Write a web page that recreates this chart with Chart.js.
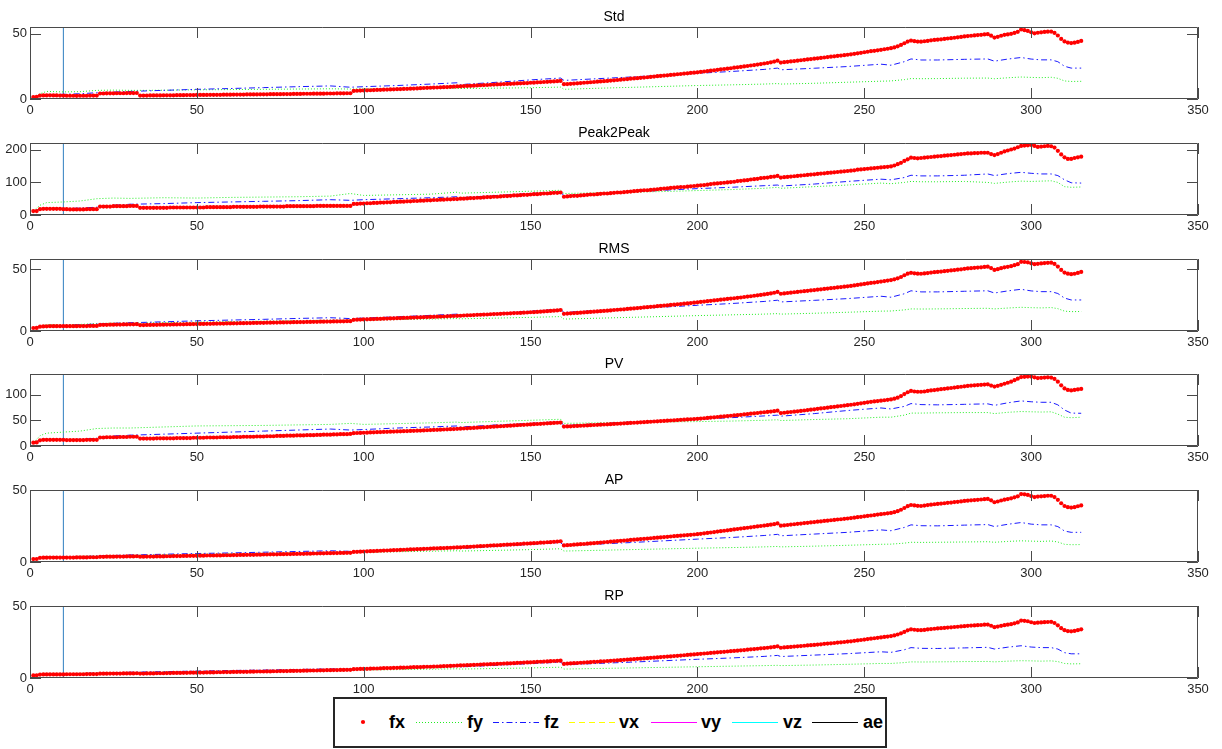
<!DOCTYPE html>
<html>
<head>
<meta charset="utf-8">
<script src="https://cdn.jsdelivr.net/npm/chart.js@4.4.1/dist/chart.umd.min.js"></script>
<style>
  html, body { margin: 0; padding: 0; background: #fff; }
  body { width: 1222px; height: 749px; position: relative; overflow: hidden; font-family: "Liberation Sans", Arial, sans-serif; }
  canvas.sub { position: absolute; left: 0; }
  #legend { position: absolute; left: 333px; top: 697px; width: 550px; height: 47px; border: 2px solid #262626; background: #fff; }
  #legend span { position: absolute; top: 12px; font-weight: bold; font-size: 18px; color: #000; line-height: 22px; }
  #legend svg { position: absolute; top: 18px; }
</style>
</head>
<body>
<div id="legend"></div>
<script>
// subplot titles and y axes
const titles = ["Std", "Peak2Peak", "RMS", "PV", "AP", "RP"];
const yMaxes = [55, 221, 58, 140, 50, 50];
const yTickVals = [[0, 50], [0, 100, 200], [0, 50], [0, 50, 100], [0, 50], [0, 50]];
const xTickStep = 50;
const xMax = 350;
const markX = 10; // vertical marker line

// fx: one value per sample, samples 1..315
const fxStd = [
  1.5, 1.6, 2.6, 2.7, 2.7, 2.8, 2.7, 2.7, 2.6, 2.6,
  2.5, 2.5, 2.5, 2.4, 2.5, 2.5, 2.5, 2.6, 2.6, 2.6,
  4.2, 4.2, 4.3, 4.3, 4.3, 4.4, 4.4, 4.4, 4.5, 4.5,
  4.5, 4.6, 2.6, 2.6, 2.6, 2.7, 2.7, 2.7, 2.7, 2.8,
  2.8, 2.8, 2.8, 2.9, 2.9, 2.9, 3.0, 3.0, 3.0, 3.1,
  3.1, 3.1, 3.1, 3.2, 3.2, 3.2, 3.2, 3.3, 3.3, 3.3,
  3.4, 3.4, 3.4, 3.4, 3.5, 3.5, 3.5, 3.5, 3.6, 3.6,
  3.6, 3.7, 3.7, 3.7, 3.7, 3.8, 3.8, 3.8, 3.9, 3.9,
  3.9, 4.0, 4.0, 4.0, 4.1, 4.1, 4.1, 4.1, 4.2, 4.2,
  4.2, 4.3, 4.3, 4.3, 4.4, 4.4, 6.2, 6.3, 6.4, 6.5,
  6.6, 6.7, 6.8, 6.9, 7.0, 7.1, 7.2, 7.3, 7.4, 7.5,
  7.6, 7.7, 7.8, 7.9, 8.0, 8.1, 8.3, 8.4, 8.5, 8.6,
  8.7, 8.8, 8.9, 9.0, 9.1, 9.3, 9.4, 9.6, 9.7, 9.9,
  10.0, 10.1, 10.2, 10.4, 10.5, 10.6, 10.7, 10.9, 11.0, 11.1,
  11.2, 11.4, 11.5, 11.6, 11.7, 11.9, 12.0, 12.1, 12.2, 12.4,
  12.5, 12.7, 12.8, 13.0, 13.1, 13.3, 13.4, 13.6, 13.8, 11.3,
  11.4, 11.6, 11.8, 12.0, 12.2, 12.4, 12.6, 12.8, 13.0, 13.2,
  13.4, 13.6, 13.8, 14.1, 14.3, 14.5, 14.8, 15.0, 15.2, 15.5,
  15.7, 15.9, 16.2, 16.4, 16.6, 16.9, 17.1, 17.4, 17.6, 17.9,
  18.1, 18.4, 18.6, 18.9, 19.1, 19.4, 19.6, 19.9, 20.1, 20.4,
  20.7, 21.0, 21.3, 21.6, 21.9, 22.3, 22.6, 22.9, 23.2, 23.5,
  23.9, 24.2, 24.5, 24.9, 25.2, 25.6, 25.9, 26.3, 26.7, 27.1,
  27.5, 28.0, 28.6, 29.3, 27.8, 28.1, 28.4, 28.7, 29.0, 29.3,
  29.6, 29.9, 30.2, 30.5, 30.8, 31.1, 31.4, 31.7, 32.0, 32.3,
  32.6, 32.9, 33.2, 33.5, 33.8, 34.1, 34.5, 34.9, 35.3, 35.7,
  36.1, 36.5, 36.8, 37.2, 37.6, 38.0, 38.4, 38.8, 39.4, 40.2,
  41.3, 42.6, 43.9, 44.6, 44.2, 43.9, 43.8, 44.1, 44.4, 44.8,
  45.1, 45.3, 45.6, 45.9, 46.2, 46.5, 46.8, 47.1, 47.4, 47.8,
  48.1, 48.3, 48.6, 48.8, 49.0, 49.3, 49.5, 48.4, 46.9, 47.5,
  48.3, 49.0, 49.3, 49.8, 50.5, 51.3, 53.1, 52.6, 52.0, 51.0,
  50.2, 50.6, 50.9, 51.2, 51.4, 51.5, 50.5, 48.5, 45.9, 44.0,
  43.1, 42.7, 43.0, 43.6, 44.4
];
const fxP2P = [
  12, 12, 18, 19, 19, 19, 19, 19, 19, 18,
  18, 17, 17, 17, 17, 17, 18, 18, 18, 18,
  26, 26, 26, 26, 27, 27, 27, 27, 27, 28,
  28, 28, 22, 22, 22, 22, 22, 22, 22, 22,
  22, 23, 23, 23, 23, 23, 23, 23, 23, 23,
  23, 23, 24, 24, 24, 24, 24, 24, 24, 24,
  25, 25, 25, 25, 25, 25, 25, 25, 26, 26,
  26, 26, 26, 26, 26, 26, 27, 27, 27, 27,
  27, 27, 27, 27, 27, 28, 28, 28, 28, 28,
  28, 28, 28, 28, 28, 28, 34, 34, 35, 35,
  36, 36, 37, 37, 38, 38, 39, 39, 40, 40,
  41, 41, 42, 42, 43, 43, 44, 44, 45, 45,
  46, 46, 47, 47, 48, 48, 49, 49, 50, 50,
  51, 52, 52, 53, 53, 54, 55, 55, 56, 56,
  57, 58, 58, 59, 60, 60, 61, 62, 62, 63,
  64, 64, 65, 66, 66, 67, 68, 68, 69, 56,
  57, 58, 59, 59, 60, 61, 62, 63, 63, 64,
  65, 66, 66, 67, 68, 69, 69, 70, 71, 72,
  73, 74, 75, 76, 76, 77, 78, 79, 80, 81,
  82, 83, 84, 85, 86, 86, 87, 88, 89, 90,
  91, 92, 93, 95, 96, 97, 98, 99, 100, 101,
  102, 104, 105, 106, 107, 109, 110, 111, 113, 114,
  115, 117, 118, 120, 115, 116, 117, 118, 119, 120,
  121, 122, 123, 124, 125, 126, 127, 128, 129, 130,
  131, 132, 133, 134, 135, 136, 137, 139, 140, 141,
  142, 143, 144, 145, 146, 147, 148, 149, 152, 156,
  160, 166, 171, 176, 175, 174, 175, 176, 177, 178,
  179, 180, 181, 182, 183, 184, 185, 186, 187, 188,
  189, 189, 190, 190, 191, 191, 191, 187, 184, 187,
  191, 195, 198, 201, 204, 208, 212, 213, 214, 215,
  212, 209, 210, 211, 212, 211, 207, 197, 186, 177,
  172, 172, 175, 177, 179
];
const fxRMS = [
  2.4, 2.5, 3.5, 3.7, 3.8, 3.9, 3.9, 3.9, 3.9, 3.9,
  3.9, 3.9, 3.9, 3.9, 4.0, 4.0, 4.0, 4.1, 4.1, 4.1,
  4.9, 5.0, 5.0, 5.1, 5.1, 5.2, 5.2, 5.3, 5.3, 5.4,
  5.4, 5.5, 4.8, 4.8, 4.9, 4.9, 5.0, 5.0, 5.1, 5.1,
  5.2, 5.2, 5.3, 5.3, 5.4, 5.4, 5.5, 5.5, 5.6, 5.6,
  5.7, 5.7, 5.8, 5.8, 5.9, 5.9, 6.0, 6.0, 6.1, 6.1,
  6.2, 6.2, 6.3, 6.3, 6.4, 6.4, 6.5, 6.5, 6.6, 6.6,
  6.7, 6.7, 6.8, 6.8, 6.9, 6.9, 7.0, 7.0, 7.1, 7.1,
  7.2, 7.2, 7.3, 7.3, 7.4, 7.4, 7.5, 7.5, 7.6, 7.6,
  7.7, 7.7, 7.8, 7.8, 7.9, 7.9, 9.0, 9.1, 9.2, 9.3,
  9.4, 9.5, 9.6, 9.7, 9.8, 9.9, 10.0, 10.1, 10.2, 10.3,
  10.4, 10.5, 10.6, 10.7, 10.8, 10.9, 11.0, 11.1, 11.2, 11.3,
  11.4, 11.5, 11.6, 11.7, 11.8, 12.0, 12.1, 12.2, 12.3, 12.5,
  12.6, 12.7, 12.8, 13.0, 13.1, 13.2, 13.3, 13.5, 13.6, 13.7,
  13.8, 14.0, 14.1, 14.2, 14.4, 14.5, 14.6, 14.8, 14.9, 15.1,
  15.2, 15.4, 15.6, 15.8, 16.0, 16.2, 16.4, 16.6, 16.9, 13.8,
  14.0, 14.2, 14.4, 14.6, 14.8, 15.0, 15.2, 15.4, 15.6, 15.8,
  16.0, 16.2, 16.4, 16.6, 16.9, 17.1, 17.3, 17.5, 17.8, 18.0,
  18.2, 18.5, 18.7, 19.0, 19.2, 19.5, 19.7, 20.0, 20.2, 20.5,
  20.7, 21.0, 21.2, 21.5, 21.7, 22.0, 22.2, 22.5, 22.8, 23.1,
  23.4, 23.7, 24.0, 24.3, 24.6, 24.9, 25.2, 25.5, 25.8, 26.1,
  26.4, 26.7, 27.0, 27.4, 27.7, 28.0, 28.4, 28.7, 29.1, 29.5,
  29.9, 30.3, 30.8, 31.5, 30.0, 30.3, 30.6, 30.9, 31.2, 31.5,
  31.8, 32.1, 32.4, 32.7, 33.0, 33.3, 33.6, 33.9, 34.2, 34.5,
  34.8, 35.1, 35.4, 35.7, 36.0, 36.3, 36.7, 37.1, 37.5, 37.9,
  38.3, 38.7, 39.0, 39.4, 39.8, 40.2, 40.6, 41.0, 41.6, 42.4,
  43.5, 44.9, 46.2, 46.9, 46.5, 46.2, 46.1, 46.4, 46.7, 47.1,
  47.4, 47.6, 47.9, 48.2, 48.5, 48.8, 49.1, 49.4, 49.7, 50.1,
  50.4, 50.6, 50.9, 51.1, 51.3, 51.6, 51.8, 50.7, 49.2, 49.8,
  50.6, 51.3, 51.7, 52.2, 53.0, 53.8, 55.7, 55.6, 55.3, 54.5,
  53.8, 54.1, 54.4, 54.7, 54.9, 55.0, 54.0, 51.9, 49.2, 47.1,
  46.2, 45.8, 46.1, 46.8, 47.6
];
const fxPV = [
  6.5, 7, 11, 12, 12, 12, 12, 12, 12, 12,
  11.5, 11.5, 11.5, 11.5, 11.5, 11.5, 12, 12, 12, 12,
  16.5, 16.5, 17, 17, 17, 17, 17.5, 17.5, 17.5, 18,
  18, 18, 14.5, 14.5, 14.5, 14.5, 14.5, 15, 15, 15,
  15, 15, 15, 15.5, 15.5, 15.5, 15.5, 15.5, 16, 16,
  16, 16, 16.5, 16.5, 16.5, 16.5, 17, 17, 17, 17,
  17.5, 17.5, 17.5, 18, 18, 18, 18, 18.5, 18.5, 18.5,
  19, 19, 19, 19.5, 19.5, 19.5, 20, 20, 20, 20.5,
  20.5, 20.5, 21, 21, 21, 21.5, 21.5, 22, 22, 22,
  22.5, 22.5, 23, 23, 23, 23.5, 25, 25.3, 25.5, 25.8,
  26, 26.3, 26.6, 26.8, 27, 27.3, 27.6, 27.8, 28, 28.3,
  28.6, 28.8, 29, 29.3, 29.6, 29.8, 30, 30.3, 30.6, 30.9,
  31.2, 31.5, 31.8, 32.1, 32.4, 32.7, 33, 33.3, 33.6, 34,
  34.4, 34.8, 35.2, 35.6, 36, 36.4, 36.8, 37.2, 37.6, 38,
  38.4, 38.8, 39.2, 39.6, 40, 40.4, 40.8, 41.2, 41.6, 42,
  42.4, 42.8, 43.2, 43.6, 44, 44.4, 44.8, 45.2, 45.6, 37.7,
  38, 38.3, 38.7, 39, 39.4, 39.7, 40.1, 40.4, 40.8, 41.1,
  41.5, 41.8, 42.2, 42.5, 42.9, 43.3, 43.6, 44, 44.4, 44.8,
  45.2, 45.6, 46, 46.4, 46.8, 47.2, 47.6, 48, 48.4, 48.8,
  49.2, 49.6, 50, 50.4, 50.8, 51.2, 51.6, 52, 52.4, 52.8,
  53.4, 54, 54.6, 55.2, 55.8, 56.4, 57, 57.6, 58.2, 58.8,
  59.4, 60, 60.7, 61.4, 62.1, 62.8, 63.5, 64.2, 64.9, 65.6,
  66.3, 67, 67.8, 68.6, 64, 64.7, 65.4, 66.1, 66.8, 67.5,
  68.2, 69, 69.8, 70.6, 71.4, 72.2, 73, 73.8, 74.6, 75.4,
  76.2, 77, 77.8, 78.6, 79.4, 80.2, 81, 82, 83, 84,
  85, 85.8, 86.6, 87.4, 88.2, 89, 89.8, 90.6, 92, 94,
  97, 101, 104.5, 107, 106, 105.5, 105.5, 106, 107, 108,
  108.8, 109.6, 110.4, 111.2, 112, 112.8, 113.6, 114.4, 115.2, 116,
  116.8, 117.5, 118, 118.5, 119, 119.5, 120, 117.5, 115.5, 117,
  119, 121, 123, 125, 128, 131, 134, 134.5, 135, 135,
  133.5, 132, 132.5, 133, 133.5, 133, 130.5, 125, 118, 112,
  109, 108, 109, 110, 111
];
const fxAP = [
  2.0, 2.1, 2.9, 3.0, 3.0, 3.1, 3.1, 3.1, 3.1, 3.1,
  3.1, 3.1, 3.1, 3.2, 3.2, 3.2, 3.2, 3.3, 3.3, 3.3,
  3.6, 3.6, 3.7, 3.7, 3.7, 3.8, 3.8, 3.8, 3.9, 3.9,
  3.9, 4.0, 3.7, 3.7, 3.8, 3.8, 3.8, 3.9, 3.9, 3.9,
  4.0, 4.0, 4.1, 4.1, 4.1, 4.2, 4.2, 4.3, 4.3, 4.3,
  4.4, 4.4, 4.5, 4.5, 4.5, 4.6, 4.6, 4.7, 4.7, 4.7,
  4.8, 4.8, 4.9, 4.9, 5.0, 5.0, 5.0, 5.1, 5.1, 5.2,
  5.2, 5.3, 5.3, 5.3, 5.4, 5.4, 5.5, 5.5, 5.6, 5.6,
  5.7, 5.7, 5.8, 5.8, 5.9, 5.9, 6.0, 6.0, 6.1, 6.1,
  6.2, 6.2, 6.3, 6.3, 6.4, 6.4, 7.0, 7.1, 7.2, 7.3,
  7.4, 7.5, 7.6, 7.7, 7.8, 7.9, 8.0, 8.1, 8.2, 8.3,
  8.4, 8.5, 8.6, 8.7, 8.8, 8.9, 9.0, 9.1, 9.2, 9.3,
  9.4, 9.5, 9.6, 9.7, 9.8, 9.9, 10.0, 10.1, 10.2, 10.4,
  10.5, 10.6, 10.7, 10.9, 11.0, 11.1, 11.2, 11.4, 11.5, 11.6,
  11.7, 11.9, 12.0, 12.1, 12.3, 12.4, 12.5, 12.7, 12.8, 12.9,
  13.1, 13.2, 13.4, 13.5, 13.7, 13.8, 14.0, 14.2, 14.4, 11.5,
  11.7, 11.8, 12.0, 12.2, 12.4, 12.5, 12.7, 12.9, 13.1, 13.3,
  13.5, 13.7, 13.9, 14.1, 14.3, 14.5, 14.7, 14.9, 15.1, 15.3,
  15.5, 15.7, 15.9, 16.1, 16.3, 16.5, 16.7, 16.9, 17.1, 17.3,
  17.5, 17.7, 17.9, 18.1, 18.3, 18.5, 18.7, 18.9, 19.1, 19.3,
  19.6, 19.9, 20.2, 20.5, 20.8, 21.1, 21.4, 21.7, 22.0, 22.3,
  22.6, 22.9, 23.2, 23.5, 23.8, 24.1, 24.4, 24.7, 25.0, 25.3,
  25.6, 25.9, 26.3, 26.8, 25.2, 25.5, 25.7, 26.0, 26.2, 26.5,
  26.7, 27.0, 27.2, 27.5, 27.7, 28.0, 28.2, 28.5, 28.7, 29.0,
  29.2, 29.5, 29.7, 30.0, 30.2, 30.5, 30.8, 31.1, 31.4, 31.7,
  32.0, 32.3, 32.6, 32.9, 33.2, 33.5, 33.8, 34.1, 34.6, 35.3,
  36.3, 37.5, 38.8, 39.6, 39.3, 39.0, 38.9, 39.2, 39.5, 39.8,
  40.1, 40.3, 40.6, 40.8, 41.1, 41.3, 41.6, 41.8, 42.1, 42.4,
  42.6, 42.8, 43.0, 43.2, 43.4, 43.6, 43.8, 42.8, 41.5, 42.0,
  42.7, 43.3, 43.7, 44.2, 44.9, 45.6, 47.2, 47.0, 46.6, 45.8,
  45.1, 45.4, 45.6, 45.8, 46.0, 46.0, 45.1, 43.2, 40.8, 38.9,
  38.1, 37.8, 38.1, 38.7, 39.3
];
const fxRP = [
  1.8, 1.9, 2.4, 2.5, 2.5, 2.5, 2.5, 2.5, 2.5, 2.5,
  2.6, 2.6, 2.6, 2.6, 2.6, 2.6, 2.7, 2.7, 2.7, 2.7,
  3.0, 3.0, 3.0, 3.1, 3.1, 3.1, 3.1, 3.2, 3.2, 3.2,
  3.2, 3.3, 3.1, 3.1, 3.2, 3.2, 3.2, 3.3, 3.3, 3.3,
  3.4, 3.4, 3.5, 3.5, 3.5, 3.6, 3.6, 3.7, 3.7, 3.7,
  3.8, 3.8, 3.9, 3.9, 3.9, 4.0, 4.0, 4.1, 4.1, 4.1,
  4.2, 4.2, 4.3, 4.3, 4.3, 4.4, 4.4, 4.5, 4.5, 4.5,
  4.6, 4.6, 4.7, 4.7, 4.8, 4.8, 4.8, 4.9, 4.9, 5.0,
  5.0, 5.1, 5.1, 5.2, 5.2, 5.2, 5.3, 5.3, 5.4, 5.4,
  5.5, 5.5, 5.6, 5.6, 5.7, 5.7, 6.1, 6.2, 6.3, 6.3,
  6.4, 6.5, 6.6, 6.6, 6.7, 6.8, 6.9, 6.9, 7.0, 7.1,
  7.2, 7.2, 7.3, 7.4, 7.5, 7.5, 7.6, 7.7, 7.8, 7.8,
  7.9, 8.0, 8.1, 8.2, 8.3, 8.4, 8.5, 8.6, 8.7, 8.8,
  8.9, 9.0, 9.1, 9.2, 9.3, 9.4, 9.5, 9.6, 9.7, 9.8,
  9.9, 10.0, 10.1, 10.2, 10.3, 10.5, 10.6, 10.7, 10.8, 10.9,
  11.0, 11.2, 11.3, 11.4, 11.5, 11.7, 11.8, 11.9, 12.0, 9.8,
  10.0, 10.1, 10.3, 10.4, 10.6, 10.7, 10.9, 11.0, 11.2, 11.3,
  11.5, 11.6, 11.8, 11.9, 12.1, 12.3, 12.4, 12.6, 12.8, 12.9,
  13.1, 13.3, 13.4, 13.6, 13.8, 14.0, 14.1, 14.3, 14.5, 14.7,
  14.9, 15.0, 15.2, 15.4, 15.6, 15.8, 16.0, 16.2, 16.4, 16.6,
  16.8, 17.0, 17.2, 17.4, 17.6, 17.8, 18.0, 18.2, 18.4, 18.6,
  18.8, 19.0, 19.2, 19.4, 19.7, 19.9, 20.1, 20.3, 20.6, 20.8,
  21.0, 21.3, 21.6, 22.0, 21.0, 21.2, 21.4, 21.6, 21.8, 22.0,
  22.2, 22.4, 22.6, 22.8, 23.0, 23.2, 23.4, 23.7, 23.9, 24.1,
  24.3, 24.6, 24.8, 25.0, 25.3, 25.5, 25.8, 26.1, 26.4, 26.7,
  27.0, 27.3, 27.6, 27.9, 28.2, 28.5, 28.8, 29.1, 29.6, 30.2,
  31.0, 32.0, 33.1, 33.8, 33.5, 33.3, 33.2, 33.4, 33.7, 34.0,
  34.2, 34.4, 34.6, 34.8, 35.0, 35.2, 35.4, 35.6, 35.8, 36.0,
  36.2, 36.4, 36.5, 36.7, 36.8, 37.0, 37.1, 36.3, 35.3, 35.7,
  36.2, 36.7, 37.0, 37.4, 38.0, 38.6, 39.9, 39.7, 39.4, 38.7,
  38.2, 38.4, 38.6, 38.8, 38.9, 39.0, 38.2, 36.6, 34.6, 33.2,
  32.6, 32.4, 32.7, 33.2, 33.8
];

// fy / fz are read at these sample positions
const lineX = [1, 3, 5, 10, 15, 20, 25, 30, 35, 40, 50, 60, 70, 80, 90, 96, 100, 110, 120, 128, 129,
  140, 150, 159, 160, 170, 180, 190, 200, 210, 220, 224, 225, 235, 245, 255, 258, 262, 264, 267,
  272, 280, 287, 289, 293, 297, 300, 303, 306, 308, 310, 312, 315];

const fzStd = [1.5, 2.5, 3.3, 3.6, 4.0, 4.8, 5.3, 5.8, 6.2, 6.6, 7.4, 8.0, 8.7, 9.4, 10.0, 9.0, 9.4, 10.3, 11.4, 12.4, 11.0,
  12.8, 14.6, 16.0, 14.2, 15.5, 16.8, 18.2, 19.6, 21.0, 22.6, 23.6, 22.3, 23.5, 24.8, 26.6, 25.8, 28.5, 30.6, 29.8,
  29.8, 30.3, 30.6, 28.9, 30.5, 31.7, 30.5, 29.9, 29.9, 28.5, 25.0, 23.6, 23.6];
const fyStd = [1.2, 4.0, 5.8, 5.4, 5.6, 6.6, 6.8, 6.6, 6.6, 6.7, 7.0, 7.2, 7.4, 7.6, 7.8, 7.6, 7.7, 7.9, 8.0, 8.2, 8.0,
  8.3, 8.6, 9.1, 7.4, 8.2, 8.9, 9.6, 10.3, 10.8, 11.4, 11.8, 11.4, 12.0, 12.8, 13.6, 13.8, 14.8, 15.6, 15.5,
  15.6, 15.9, 16.0, 15.5, 16.2, 16.8, 16.5, 16.3, 16.6, 15.8, 13.8, 13.4, 13.5];

const fzP2P = [12, 18, 20, 20, 21, 24, 30, 33, 34, 35, 38, 40, 42, 44, 47, 45, 47, 50, 53, 56, 53,
  60, 66, 71, 59, 65, 71, 76, 81, 85, 90, 92, 89, 95, 103, 110, 108, 115, 122, 120,
  120, 122, 126, 121, 127, 131, 128, 126, 126, 121, 108, 99, 98];
const fyP2P = [12, 30, 38, 40, 43, 50, 52, 51, 52, 53, 52, 54, 55, 56, 58, 66, 60, 62, 64, 70, 67,
  70, 73, 76, 66, 68, 70, 72, 75, 78, 82, 85, 82, 87, 92, 98, 96, 100, 103, 102,
  102, 103, 100, 97, 101, 104, 103, 104, 105, 100, 87, 85, 86];

const fzRMS = [2.5, 3.5, 4.0, 4.5, 5.0, 5.6, 6.2, 6.7, 7.0, 7.4, 8.2, 8.8, 9.4, 10.1, 10.7, 10.0, 10.4, 11.4, 12.6, 13.6, 12.4,
  14.2, 16.0, 17.5, 15.0, 16.4, 17.8, 19.3, 20.7, 22.1, 23.8, 24.8, 23.4, 24.7, 26.1, 28.0, 27.2, 30.0, 32.4, 31.5,
  31.5, 32.0, 32.4, 30.6, 32.3, 33.6, 32.3, 31.7, 31.7, 30.2, 26.5, 25.0, 25.0];
const fyRMS = [2.4, 4.0, 5.0, 5.0, 5.3, 6.0, 6.3, 6.3, 6.5, 6.7, 7.1, 7.5, 7.9, 8.3, 8.7, 8.6, 8.8, 9.2, 9.6, 10.0, 9.8,
  10.4, 11.0, 11.6, 9.6, 10.3, 11.0, 11.7, 12.4, 13.0, 13.6, 14.0, 13.6, 14.3, 15.1, 16.0, 16.1, 17.0, 17.8, 17.7,
  17.8, 18.1, 18.3, 17.8, 18.5, 19.1, 18.8, 18.6, 18.9, 18.0, 16.0, 15.6, 15.7];

const fzPV = [6.5, 11, 12, 12, 13, 15, 19.5, 21, 22, 23, 25, 27, 29, 31, 33, 31, 32, 35, 37, 39, 37,
  41, 44, 47.4, 39.6, 43, 46.5, 49.5, 52, 55, 58.5, 60, 58, 63, 69, 74, 72, 77, 82.5, 80.5,
  80, 81, 82, 79, 84, 87.7, 86, 85, 85, 80, 70, 64, 63.6];
const fyPV = [6.5, 20, 25, 27, 29, 34, 35, 35, 36, 37, 39, 39.5, 40, 41, 42, 44, 42, 43.5, 45, 46.5, 45.5,
  48, 50, 52, 44, 45, 46, 46.8, 47.4, 48.5, 50, 51, 49.5, 51.5, 53, 56, 56, 60, 64, 64,
  64.5, 65, 65, 63, 65.5, 67, 66.5, 66, 66.5, 62, 56, 55, 56];

const fzAP = [2, 2.8, 3.2, 3.4, 3.7, 4.1, 4.5, 4.9, 5.1, 5.4, 5.9, 6.3, 6.8, 7.3, 7.8, 7.4, 7.7, 8.5, 9.3, 10.0, 9.4,
  10.9, 12.3, 13.5, 11.2, 12.4, 13.5, 14.7, 15.9, 17.0, 18.4, 19.2, 18.2, 19.4, 20.6, 22.3, 21.7, 24.0, 25.8, 25.2,
  25.1, 25.6, 26.0, 24.6, 26.2, 27.4, 26.3, 25.8, 25.8, 24.6, 21.5, 20.6, 20.6];
const fyAP = [2, 3.0, 3.6, 3.7, 3.9, 4.3, 4.5, 4.6, 4.8, 5.0, 5.4, 5.7, 6.0, 6.3, 6.6, 6.6, 6.8, 7.1, 7.5, 7.8, 7.6,
  8.1, 8.6, 9.2, 7.6, 8.1, 8.6, 9.1, 9.6, 10.0, 10.5, 10.8, 10.5, 11.0, 11.6, 12.3, 12.4, 13.1, 13.7, 13.6,
  13.7, 13.9, 14.1, 13.7, 14.3, 14.7, 14.5, 14.3, 14.6, 13.9, 12.3, 12.0, 12.1];

const fzRP = [1.8, 2.4, 2.7, 2.9, 3.1, 3.4, 3.7, 4.0, 4.2, 4.4, 4.8, 5.2, 5.5, 5.9, 6.3, 6.0, 6.3, 6.9, 7.6, 8.2, 7.7,
  8.9, 10.0, 11.0, 9.2, 10.1, 11.0, 12.0, 13.0, 13.9, 15.0, 15.7, 14.9, 15.9, 16.9, 18.2, 17.8, 19.6, 21.1, 20.6,
  20.5, 20.9, 21.3, 20.1, 21.4, 22.4, 21.5, 21.1, 21.1, 20.1, 17.6, 16.8, 16.8];
const fyRP = [1.8, 2.5, 3.0, 3.0, 3.2, 3.5, 3.7, 3.8, 3.9, 4.1, 4.4, 4.7, 4.9, 5.2, 5.4, 5.4, 5.6, 5.8, 6.1, 6.4, 6.2,
  6.6, 7.0, 7.5, 6.2, 6.6, 7.0, 7.4, 7.8, 8.2, 8.6, 8.8, 8.6, 9.0, 9.5, 10.1, 10.1, 10.7, 11.2, 11.1,
  11.2, 11.4, 11.5, 11.2, 11.7, 12.0, 11.9, 11.7, 11.9, 11.4, 10.1, 9.8, 9.9];

// vx, vy, vz, ae stay at zero over the whole record
const flatX = [1, 315];
const vxVals = [0, 0];
const vyVals = [0, 0];
const vzVals = [0, 0];
const aeVals = [0, 0];

const fxAll = [fxStd, fxP2P, fxRMS, fxPV, fxAP, fxRP];
const fyAll = [fyStd, fyP2P, fyRMS, fyPV, fyAP, fyRP];
const fzAll = [fzStd, fzP2P, fzRMS, fzPV, fzAP, fzRP];

// layout of the six axes
const axesTop = [27, 143, 259, 374, 490, 606];
const axesH = 72;
const padTop = 27, padBottom = 22, padRight = 24, yAxisW = 30;
const tickLen = 11;
const frameColor = "#4a4a4a";
const textColor = "#262626";
const FONT = "'Liberation Sans', Arial, sans-serif";

const toXY = (xs, ys) => ys.map((v, k) => ({ x: xs[k], y: v }));

const framePlugin = {
  id: "frame",
  afterDatasetsDraw(chart) {
    const { ctx, chartArea: a, scales } = chart;
    const x = scales.x, y = scales.y;
    ctx.save();
    ctx.strokeStyle = frameColor;
    ctx.lineWidth = 1;
    ctx.beginPath();
    ctx.rect(a.left + 0.5, a.top + 0.5, a.right - a.left - 1, a.bottom - a.top - 1);
    x.ticks.forEach(t => {
      const px = Math.round(x.getPixelForValue(t.value)) + 0.5;
      ctx.moveTo(px, a.top); ctx.lineTo(px, a.top + tickLen);
      ctx.moveTo(px, a.bottom); ctx.lineTo(px, a.bottom - tickLen);
    });
    y.ticks.forEach(t => {
      const py = Math.round(y.getPixelForValue(t.value)) + 0.5;
      ctx.moveTo(a.left, py); ctx.lineTo(a.left + tickLen, py);
      ctx.moveTo(a.right, py); ctx.lineTo(a.right - tickLen, py);
    });
    ctx.stroke();
    ctx.fillStyle = "#000";
    ctx.font = "14px " + FONT;
    ctx.textAlign = "center";
    ctx.textBaseline = "middle";
    ctx.fillText(chart.options.plugins.frame.title, (a.left + a.right) / 2, a.top - 10);
    ctx.restore();
  }
};

titles.forEach((title, i) => {
  const cv = document.createElement("canvas");
  cv.className = "sub";
  cv.width = 1222;
  cv.height = padTop + axesH + padBottom;
  cv.style.top = (axesTop[i] - padTop) + "px";
  document.body.appendChild(cv);

  const lineDs = (label, xs, ys, color, dash) => ({
    label, data: toXY(xs, ys), borderColor: color, borderWidth: 1, borderDash: dash,
    pointRadius: 0, showLine: true, tension: 0, fill: false
  });

  const fxData = fxAll[i].map((v, k) => ({ x: k + 1, y: v }));

  new Chart(cv, {
    type: "line",
    data: {
      datasets: [
        { label: "fx", data: fxData, showLine: false, pointRadius: 2.1, pointBorderWidth: 0,
          pointBackgroundColor: "#ff0000", borderColor: "#ff0000", pointStyle: "circle" },
        lineDs("ae", flatX, aeVals, "#000000", []),
        lineDs("vz", flatX, vzVals, "#00ffff", []),
        lineDs("vy", flatX, vyVals, "#ff00ff", []),
        lineDs("vx", flatX, vxVals, "#ffff00", [6, 4]),
        lineDs("fz", lineX, fzAll[i], "#1a1aff", [6, 3, 1.5, 3]),
        lineDs("fy", lineX, fyAll[i], "#22ee22", [1, 2]),
        lineDs("mark", [markX, markX], [0, yMaxes[i]], "#2f7fc0", [])
      ]
    },
    options: {
      responsive: false,
      animation: false,
      devicePixelRatio: 1,
      layout: { padding: { top: padTop, right: padRight, left: 0, bottom: 0 } },
      plugins: { legend: { display: false }, tooltip: { enabled: false }, frame: { title } },
      scales: {
        x: {
          type: "linear", min: 0, max: xMax,
          grid: { display: false, drawTicks: false }, border: { display: false },
          ticks: { stepSize: xTickStep, padding: 4, color: textColor, font: { family: FONT, size: 13 }, maxRotation: 0 },
          afterFit: s => { s.height = padBottom; }
        },
        y: {
          min: 0, max: yMaxes[i],
          grid: { display: false, drawTicks: false }, border: { display: false },
          ticks: { padding: 3, color: textColor, font: { family: FONT, size: 13 } },
          afterBuildTicks: s => { s.ticks = yTickVals[i].map(v => ({ value: v })); },
          afterFit: s => { s.width = yAxisW; }
        }
      }
    },
    plugins: [framePlugin]
  });
});

// legend box
const legendNames = ["fx", "fy", "fz", "vx", "vy", "vz", "ae"];
const legendColors = ["#ff0000", "#22ee22", "#1a1aff", "#ffff00", "#ff00ff", "#00ffff", "#000000"];
const legendDash = [null, "1 2", "6 3 1.5 3", "6 4", "", "", ""];
const legendSampleLeft = [340, 416, 493, 569, 651, 732, 812];
const legendTextLeft = [389, 467, 544, 619, 701, 783, 863];
const legendBox = document.getElementById("legend");
const boxLeft = 335;
legendNames.forEach((name, k) => {
  const svgNS = "http://www.w3.org/2000/svg";
  const svg = document.createElementNS(svgNS, "svg");
  svg.setAttribute("width", "46");
  svg.setAttribute("height", "10");
  svg.style.left = (legendSampleLeft[k] - boxLeft) + "px";
  if (legendDash[k] === null) {
    const c = document.createElementNS(svgNS, "circle");
    c.setAttribute("cx", "23"); c.setAttribute("cy", "5"); c.setAttribute("r", "2.1");
    c.setAttribute("fill", legendColors[k]);
    svg.appendChild(c);
  } else {
    const l = document.createElementNS(svgNS, "line");
    l.setAttribute("x1", "0"); l.setAttribute("x2", "46");
    l.setAttribute("y1", "5.5"); l.setAttribute("y2", "5.5");
    l.setAttribute("stroke", legendColors[k]);
    l.setAttribute("stroke-width", "1");
    if (legendDash[k]) l.setAttribute("stroke-dasharray", legendDash[k]);
    svg.appendChild(l);
  }
  legendBox.appendChild(svg);
  const sp = document.createElement("span");
  sp.textContent = name;
  sp.style.left = (legendTextLeft[k] - boxLeft) + "px";
  legendBox.appendChild(sp);
});
</script>
</body>
</html>
